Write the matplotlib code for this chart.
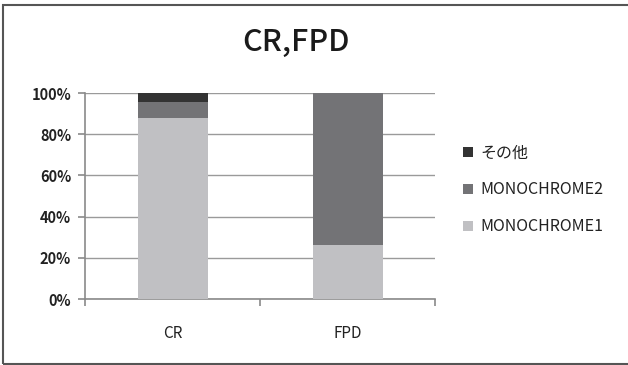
import matplotlib
matplotlib.use("Agg")
import matplotlib.pyplot as plt
from matplotlib.patches import Rectangle
from matplotlib.ticker import FuncFormatter, MultipleLocator

plt.rcParams['font.family'] = ['Noto Sans CJK JP', 'DejaVu Sans']

categories = ["CR", "FPD"]
mono1 = [88.0, 26.0]
mono2 = [7.5, 74.0]
other = [4.5, 0.0]
series_names = ["MONOCHROME1", "MONOCHROME2", "その他"]
colors = ["#c0c0c3", "#737376", "#333333"]

fig = plt.figure(figsize=(6.28, 3.65), dpi=100)
# outer frame
fig.patches.append(Rectangle((3.5/628, 1-363.5/365), 2.0, (363.5-5)/365,
                             transform=fig.transFigure, fill=False,
                             edgecolor="#555555", linewidth=1.5))

ax = fig.add_axes([85/628, 1-299/365, 350/628, 206/365])
x = [0.5, 1.5]
w = 0.4
b1 = ax.bar(x, mono1, w, color=colors[0], label=series_names[0], zorder=3)
bottom2 = mono1
b2 = ax.bar(x, mono2, w, bottom=bottom2, color=colors[1], label=series_names[1], zorder=3)
bottom3 = [a + b for a, b in zip(mono1, mono2)]
b3 = ax.bar(x, other, w, bottom=bottom3, color=colors[2], label=series_names[2], zorder=3)

ax.set_xlim(0, 2)
ax.set_ylim(0, 100)
ax.yaxis.set_major_locator(MultipleLocator(20))
ax.yaxis.set_major_formatter(FuncFormatter(lambda v, p: f"{int(v)}%"))
ax.grid(axis="y", color="#9a9a9a", linewidth=1, zorder=0)
for s in ["top", "right"]:
    ax.spines[s].set_visible(False)
for s in ["left", "bottom"]:
    ax.spines[s].set_color("#8a8a8a")
    ax.spines[s].set_linewidth(1.2)

ax.set_xticks([0, 1, 2])
ax.set_xticklabels([])
ax.set_xticks(x, minor=True)
ax.set_xticklabels(categories, minor=True, fontsize=11)
ax.tick_params(axis="x", which="minor", length=0, pad=19, colors="#222222")
ax.tick_params(axis="x", which="major", length=5, color="#8a8a8a", width=1.2)
ax.tick_params(axis="y", length=5, color="#8a8a8a", width=1.2, labelsize=10.5,
               labelcolor="#222222", pad=5)
for lab in ax.get_yticklabels():
    lab.set_fontweight("bold")

fig.text(296/628, 1-42/365, "CR,FPD", ha="center", va="center", fontsize=22,
         color="#1a1a1a", fontweight="medium")

handles = [b3, b2, b1]
labels = [series_names[2], series_names[1], series_names[0]]
leg = fig.legend(handles, labels, loc="center left",
                 bbox_to_anchor=(449/628, 1-190/365), frameon=False,
                 fontsize=11.5, handlelength=0.6, handleheight=0.6,
                 handletextpad=0.45, labelspacing=1.25, labelcolor="#222222")

fig.savefig("out.png", dpi=100, facecolor="white")
